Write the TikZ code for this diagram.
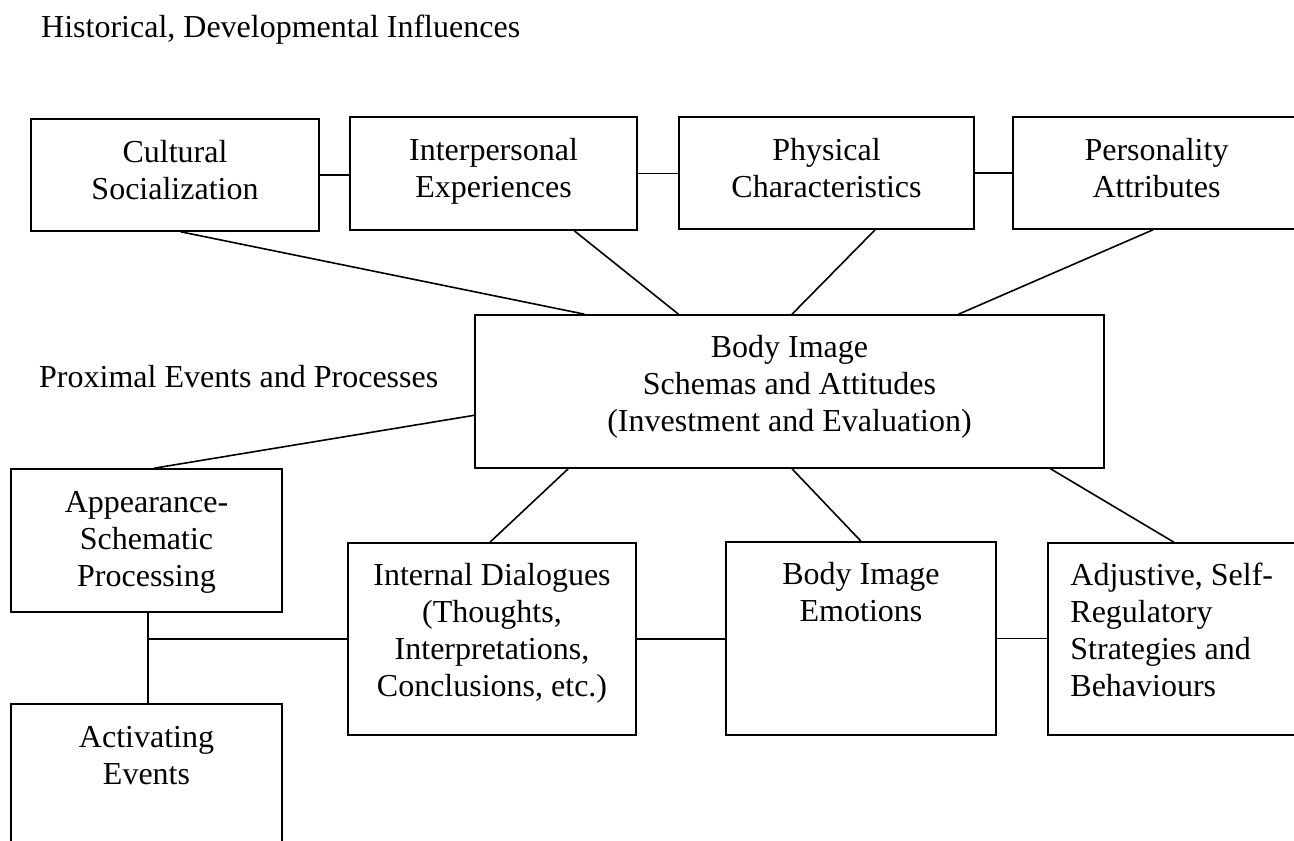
\documentclass[tikz,border=0pt]{standalone}
\usepackage{fontspec}
\setmainfont{Liberation Serif}
\usetikzlibrary{calc}
\tikzset{
  box/.style={draw, line width=1.6pt, rectangle, inner sep=0pt},
  boxtext/.style={anchor=north, inner sep=0pt, align=center, font=\fontsize{32}{37}\selectfont},
  plaintext/.style={inner sep=0pt, font=\fontsize{32}{37}\selectfont},
  link/.style={line width=1.6pt}
}
\begin{document}
\begin{tikzpicture}[x=1pt,y=1pt,yscale=-1,xscale=1]
\clip (0,0) rectangle (1294,841);
\fill[white] (0,0) rectangle (1294,841);
% Headings
\node[plaintext, anchor=base west] (hist) at (41,37) {Historical, Developmental Influences};
\node[plaintext, anchor=base west] (prox) at (39,387) {Proximal Events and Processes};
% Top row
\node[box, minimum width=288, minimum height=112] (cult) at (175,175) {};
\node[box, minimum width=287, minimum height=113] (inter) at (493.5,173.5) {};
\node[box, minimum width=295, minimum height=112] (phys) at (826.5,173) {};
\node[box, minimum width=287, minimum height=112] (pers) at (1156.5,173) {};
\node[boxtext] (cultT) at ($(cult.north)+(0,22)$) {Cultural\\Socialization};
\node[boxtext] (interT) at ($(inter.north)+(0,22)$) {Interpersonal\\Experiences};
\node[boxtext] (physT) at ($(phys.north)+(0,22)$) {Physical\\Characteristics};
\node[boxtext] (persT) at ($(pers.north)+(0,22)$) {Personality\\Attributes};
% Centre
\node[box, minimum width=629, minimum height=153] (body) at (789.5,391.5) {};
\node[boxtext] (bodyT) at ($(body.north)+(0,21)$) {Body Image\\Schemas and Attitudes\\(Investment and Evaluation)};
% Lower part
\node[box, minimum width=271, minimum height=143] (appear) at (146.5,540.5) {};
\node[box, minimum width=271, minimum height=156] (activ) at (146.5,782) {};
\node[box, minimum width=288, minimum height=192] (dial) at (492,639) {};
\node[box, minimum width=270, minimum height=193] (emot) at (861,638.5) {};
\node[box, minimum width=272, minimum height=192] (adjust) at (1184,639) {};
\node[boxtext] (appearT) at ($(appear.north)+(0,23)$) {Appearance-\\Schematic\\Processing};
\node[boxtext] (activT) at ($(activ.north)+(0,23)$) {Activating\\Events};
\node[boxtext] (dialT) at ($(dial.north)+(0,21)$) {Internal Dialogues\\(Thoughts,\\Interpretations,\\Conclusions, etc.)};
\node[boxtext] (emotT) at ($(emot.north)+(0,21)$) {Body Image\\Emotions};
\node[boxtext, anchor=north west, align=left] (adjustT) at ($(adjust.north west)+(23,21)$) {Adjustive, Self-\\Regulatory\\Strategies and\\Behaviours};
% Connectors
\draw[link] (cult.east) -- (cult.east -| inter.west);
\draw[link] (inter.east) -- (inter.east -| phys.west);
\draw[link] (phys.east) -- (pers.west);
\draw[link] ($(cult.south west)!0.52!(cult.south east)$) -- ($(body.north west)!0.175!(body.north east)$);
\draw[link] ($(inter.south west)!0.78!(inter.south east)$) -- ($(body.north west)!0.324!(body.north east)$);
\draw[link] ($(phys.south west)!0.664!(phys.south east)$) -- ($(body.north west)!0.504!(body.north east)$);
\draw[link] ($(pers.south west)!0.488!(pers.south east)$) -- ($(body.north west)!0.768!(body.north east)$);
\draw[link] ($(body.north west)!0.654!(body.south west)$) -- ($(appear.north west)!0.528!(appear.north east)$);
\draw[link] ($(body.south west)!0.149!(body.south east)$) -- ($(dial.north west)!0.493!(dial.north east)$);
\draw[link] ($(body.south west)!0.504!(body.south east)$) -- (emot.north);
\draw[link] ($(body.south west)!0.914!(body.south east)$) -- ($(adjust.north west)!0.463!(adjust.north east)$);
\coordinate (tee) at ($(appear.south)+(1.5,0)$);
\draw[link] (tee) -- (tee |- activ.north);
\draw[link] (tee |- dial.west) -- (dial.west);
\draw[link] (dial.east) -- (dial.east -| emot.west);
\draw[link] (emot.east) -- (emot.east -| adjust.west);
\end{tikzpicture}
\end{document}
